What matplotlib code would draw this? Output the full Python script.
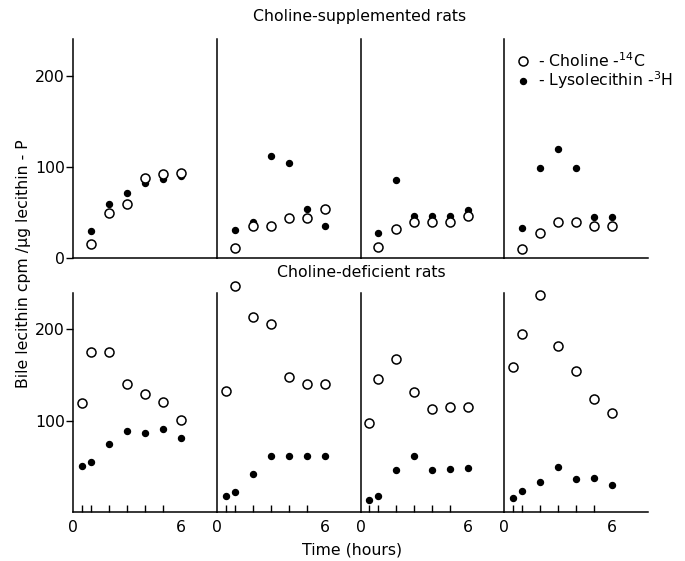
import matplotlib
matplotlib.use('Agg')
import matplotlib.pyplot as plt
from matplotlib.lines import Line2D

plt.rcParams['font.family'] = ['DejaVu Sans']

# sampling times (hours)
t_sup = [1, 2, 3, 4, 5, 6]
t_def = [0.5, 1, 2, 3, 4, 5, 6]

# choline-supplemented rats, one list per animal
sup_choline = [
    [16, 50, 60, 88, 92, 94],
    [11, 35, 35, 44, 44, 54],
    [12, 32, 40, 40, 40, 47],
    [10, 28, 40, 40, 36, 36],
]
sup_lyso = [
    [30, 60, 72, 83, 87, 90],
    [31, 40, 112, 104, 54, 36],
    [28, 86, 46, 46, 46, 53],
    [33, 99, 120, 99, 45, 45],
]

# choline-deficient rats
def_choline = [
    [119, 175, 175, 140, 129, 120, 101],
    [132, 247, 214, 206, 148, 140, 140],
    [97, 146, 168, 131, 113, 115, 115],
    [159, 195, 238, 182, 154, 124, 108],
]
def_lyso = [
    [50, 55, 75, 89, 87, 91, 81],
    [18, 22, 42, 61, 61, 61, 61],
    [13, 18, 46, 61, 46, 47, 48],
    [15, 23, 33, 49, 36, 37, 30],
]

fs = 11.3

fig, axes = plt.subplots(2, 4, figsize=(6.85, 5.61), dpi=100)
fig.subplots_adjust(left=0.1066, right=0.946, top=0.930, bottom=0.0873,
                    wspace=0, hspace=0.157)

open_kw = dict(ls='none', marker='o', ms=6.5, mfc='white', mec='black', mew=1.1)
fill_kw = dict(ls='none', marker='o', ms=4.3, mfc='black', mec='black')

for i in range(4):
    for row, t, ch, ly in [(0, t_sup, sup_choline, sup_lyso),
                           (1, t_def, def_choline, def_lyso)]:
        ax = axes[row, i]
        ax.plot(t, ly[i], clip_on=False, **fill_kw)
        ax.plot(t, ch[i], clip_on=False, **open_kw)
        ax.set_xlim(0, 8)
        ax.set_ylim(0, 240)
        ax.spines['top'].set_visible(False)
        ax.spines['right'].set_visible(False)
        for s in ['left', 'bottom']:
            ax.spines[s].set_linewidth(1.1)
        if row == 0:
            ax.set_xticks([])
            ax.set_yticks([0, 100, 200])
        else:
            ax.set_yticks([100, 200])
            ax.set_xticks([0, 6])
            ax.set_xticks([0.5, 1, 2, 3, 4, 5, 6], minor=True)
            ax.tick_params(axis='x', which='major', length=0, labelsize=fs, pad=6)
            ax.tick_params(axis='x', which='minor', direction='in', length=5, width=1)
        ax.tick_params(axis='y', direction='out', length=5, width=1,
                       labelsize=fs, pad=1)
        if i > 0:
            ax.tick_params(axis='y', length=0, labelleft=False)

handles = [
    Line2D([], [], **open_kw),
    Line2D([], [], **fill_kw),
]
axes[0, 3].legend(handles, ['- Choline -$^{14}$C', '- Lysolecithin -$^{3}$H'],
                  loc='upper left', bbox_to_anchor=(0.03, 0.975), frameon=False,
                  handlelength=1.0, handletextpad=0.5, labelspacing=0.0,
                  borderaxespad=0, fontsize=fs)

fig.text(0.525, 0.97, 'Choline-supplemented rats', ha='center', va='center', fontsize=fs)
fig.text(0.528, 0.515, 'Choline-deficient rats', ha='center', va='center', fontsize=fs)
fig.text(0.514, 0.02, 'Time (hours)', ha='center', va='center', fontsize=fs)
fig.text(0.034, 0.53, 'Bile lecithin cpm /\u03bcg lecithin - P', ha='center',
         va='center', rotation=90, fontsize=fs)

fig.savefig('out.png', dpi=100)
